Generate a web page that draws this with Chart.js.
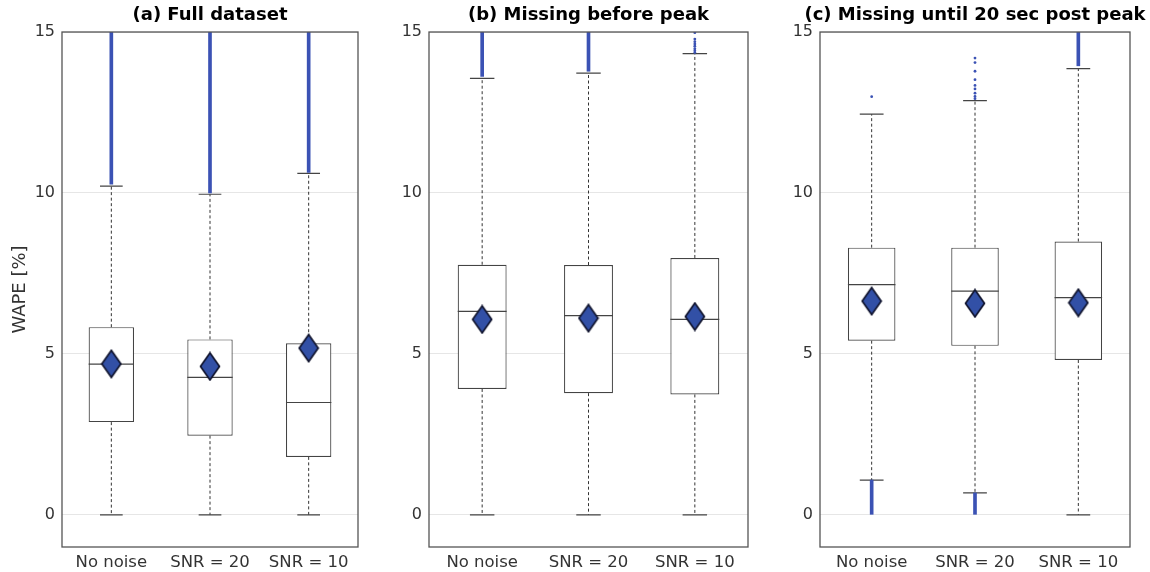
<!DOCTYPE html>
<html>
<head>
<meta charset="utf-8">
<script src="https://cdn.jsdelivr.net/npm/chart.js@4/dist/chart.umd.min.js"></script>
<style>
  html, body { margin: 0; padding: 0; background: #fff; overflow: hidden; }
  #wrap { position: relative; width: 1150px; height: 572px; overflow: hidden; }
  .panel { position: absolute; top: 0; height: 572px; }
</style>
</head>
<body>
<div id="wrap">
  <div class="panel" style="left:0; width:365px;"><canvas id="chartA"></canvas></div>
  <div class="panel" style="left:380px; width:375px;"><canvas id="chartB"></canvas></div>
  <div class="panel" style="left:765px; width:420px;"><canvas id="chartC"></canvas></div>
</div>
<script>
const categories = ["No noise", "SNR = 20", "SNR = 10"];
const yTicks = [0, 5, 10, 15];

// (a) Full dataset
const fullQ1 = [2.88, 2.46, 1.80];
const fullMedian = [4.68, 4.27, 3.49];
const fullQ3 = [5.83, 5.45, 5.33];
const fullLow = [0, 0, 0];
const fullHigh = [10.21, 9.96, 10.61];
const fullMean = [4.69, 4.61, 5.18];
const fullBandTop = [[10.27, 15], [10.0, 15], [10.64, 15]];
const fullBandBottom = [null, null, null];
const fullFliers = [[], [], []];

// (b) Missing before peak
const beforeQ1 = [3.91, 3.78, 3.74];
const beforeMedian = [6.32, 6.19, 6.07];
const beforeQ3 = [7.77, 7.76, 7.98];
const beforeLow = [0, 0, 0];
const beforeHigh = [13.56, 13.72, 14.33];
const beforeMean = [6.07, 6.11, 6.16];
const beforeBandTop = [[13.62, 15], [13.78, 15], null];
const beforeBandBottom = [null, null, null];
const beforeFliers = [[], [], [14.36, 14.42, 14.48, 14.56, 14.63, 14.7, 14.78, 14.98]];

// (c) Missing until 20 sec post peak
const postQ1 = [5.41, 5.25, 4.81];
const postMedian = [7.15, 6.95, 6.75];
const postQ3 = [8.30, 8.30, 8.49];
const postLow = [1.08, 0.68, 0];
const postHigh = [12.45, 12.87, 13.86];
const postMean = [6.64, 6.57, 6.59];
const postBandTop = [null, null, [13.95, 15]];
const postBandBottom = [[0, 1.08], [0, 0.68], null];
const postFliers = [[12.99], [12.93, 13.0, 13.1, 13.23, 13.34, 13.52, 13.78, 14.05, 14.19], []];

const BLUE = "#3b52b4";
const FONT = "'DejaVu Sans', 'Liberation Sans', sans-serif";

const stats = {};

function makeDiamond() {
    const c = document.createElement("canvas");
    c.width = 22;
    c.height = 30;
    const ctx = c.getContext("2d");
    ctx.beginPath();
    ctx.moveTo(11, 1.5);
    ctx.lineTo(20.5, 15);
    ctx.lineTo(11, 28.5);
    ctx.lineTo(1.5, 15);
    ctx.closePath();
    ctx.fillStyle = "#3250a6";
    ctx.fill();
    ctx.lineWidth = 1.7;
    ctx.strokeStyle = "#10142e";
    ctx.stroke();
    return c;
}
const diamond = makeDiamond();

// whiskers, caps, medians and the frame drawn from the chart's own scales
const boxParts = {
    id: "boxParts",
    beforeDatasetsDraw(chart) {
        const s = stats[chart.canvas.id];
        const y = chart.scales.y;
        const bars = chart.getDatasetMeta(s.boxIndex).data;
        const ctx = chart.ctx;
        ctx.save();
        bars.forEach((bar, i) => {
            const half = bar.width / 4;
            ctx.strokeStyle = "#333";
            ctx.lineWidth = 1;
            ctx.setLineDash([3, 2.5]);
            ctx.beginPath();
            ctx.moveTo(bar.x, y.getPixelForValue(s.q3[i]));
            ctx.lineTo(bar.x, y.getPixelForValue(s.high[i]));
            ctx.moveTo(bar.x, y.getPixelForValue(s.q1[i]));
            ctx.lineTo(bar.x, y.getPixelForValue(s.low[i]));
            ctx.stroke();
            ctx.setLineDash([]);
            ctx.lineWidth = 1.2;
            ctx.strokeStyle = "#444";
            ctx.beginPath();
            [s.high[i], s.low[i]].forEach(v => {
                const py = y.getPixelForValue(v);
                ctx.moveTo(bar.x - half, py);
                ctx.lineTo(bar.x + half, py);
            });
            ctx.stroke();
        });
        ctx.restore();
    },
    afterDatasetDraw(chart, args) {
        const s = stats[chart.canvas.id];
        if (args.index !== s.boxIndex) return;
        const y = chart.scales.y;
        const ctx = chart.ctx;
        ctx.save();
        ctx.strokeStyle = "#444";
        ctx.lineWidth = 1.2;
        args.meta.data.forEach((bar, i) => {
            const py = y.getPixelForValue(s.median[i]);
            ctx.beginPath();
            ctx.moveTo(bar.x - bar.width / 2, py);
            ctx.lineTo(bar.x + bar.width / 2, py);
            ctx.stroke();
        });
        ctx.restore();
    },
    afterDraw(chart) {
        const a = chart.chartArea;
        const ctx = chart.ctx;
        ctx.save();
        ctx.strokeStyle = "#555";
        ctx.lineWidth = 1.3;
        ctx.strokeRect(a.left, a.top, a.right - a.left, a.bottom - a.top);
        ctx.restore();
    }
};

// rightGap: empty space right of the plot; wideTitle lets the title run past the plot edges
function makePanel(id, title, d, axisWidth, rightGap, showYTitle, wideTitle) {
    const flierPoints = [];
    d.fliers.forEach((list, i) => list.forEach(v => flierPoints.push({ x: categories[i], y: v })));

    stats[id] = { q1: d.q1, median: d.median, q3: d.q3, low: d.low, high: d.high, boxIndex: 2 };

    new Chart(document.getElementById(id), {
        type: "bar",
        data: {
            labels: categories,
            datasets: [
                {
                    type: "line",
                    data: d.mean,
                    showLine: false,
                    pointStyle: diamond,
                    pointRadius: 10,
                    order: 0
                },
                {
                    type: "line",
                    data: flierPoints,
                    showLine: false,
                    pointStyle: "circle",
                    pointRadius: 1.4,
                    pointBorderWidth: 0,
                    pointBackgroundColor: BLUE,
                    order: 1
                },
                {
                    data: categories.map((c, i) => [d.q1[i], d.q3[i]]),
                    backgroundColor: "#fff",
                    borderColor: "#444",
                    borderWidth: 1.2,
                    borderSkipped: false,
                    barPercentage: 0.46,
                    categoryPercentage: 1,
                    grouped: false,
                    order: 2
                },
                {
                    data: d.bandTop,
                    backgroundColor: BLUE,
                    barThickness: 3,
                    grouped: false,
                    order: 3
                },
                {
                    data: d.bandBottom,
                    backgroundColor: BLUE,
                    barThickness: 3,
                    grouped: false,
                    order: 3
                }
            ]
        },
        options: {
            responsive: true,
            maintainAspectRatio: false,
            animation: false,
            events: [],
            layout: { autoPadding: false, padding: 0 },
            plugins: {
                legend: { display: false },
                tooltip: { enabled: false },
                title: {
                    display: true,
                    text: title,
                    fullSize: wideTitle,
                    color: "#000",
                    font: { family: FONT, size: 18, weight: "bold" },
                    padding: { top: 5, bottom: 5.4 }
                }
            },
            scales: {
                x: {
                    grid: { display: false, drawTicks: false },
                    border: { display: false },
                    ticks: { color: "#333", font: { family: FONT, size: 16.5 }, padding: 6, maxRotation: 0 },
                    afterFit: s => { s.height = 25; }
                },
                y: {
                    min: -1,
                    max: 15,
                    afterBuildTicks: s => { s.ticks = yTicks.map(v => ({ value: v })); },
                    grid: { color: "#e6e6e6", lineWidth: 1, drawTicks: false },
                    border: { display: false },
                    ticks: { color: "#333", font: { family: FONT, size: 16 }, padding: 7 },
                    title: {
                        display: showYTitle,
                        text: "WAPE [%]",
                        color: "#333",
                        font: { family: FONT, size: 18 },
                        padding: { top: 10, bottom: 0 }
                    },
                    afterFit: s => { s.width = axisWidth; }
                },
                // empty right-hand spacer so the plot keeps its width
                gap: {
                    type: "linear",
                    position: "right",
                    grid: { display: false, drawTicks: false },
                    border: { display: false },
                    ticks: { display: false },
                    afterFit: s => { s.width = rightGap; }
                }
            }
        },
        plugins: [boxParts]
    });
}

makePanel("chartA", "(a) Full dataset", {
    q1: fullQ1, median: fullMedian, q3: fullQ3, low: fullLow, high: fullHigh,
    mean: fullMean, bandTop: fullBandTop, bandBottom: fullBandBottom, fliers: fullFliers
}, 62, 7, true, false);

makePanel("chartB", "(b) Missing before peak", {
    q1: beforeQ1, median: beforeMedian, q3: beforeQ3, low: beforeLow, high: beforeHigh,
    mean: beforeMean, bandTop: beforeBandTop, bandBottom: beforeBandBottom, fliers: beforeFliers
}, 49, 7, false, false);

makePanel("chartC", "(c) Missing until 20 sec post peak", {
    q1: postQ1, median: postMedian, q3: postQ3, low: postLow, high: postHigh,
    mean: postMean, bandTop: postBandTop, bandBottom: postBandBottom, fliers: postFliers
}, 55, 55, false, true);
</script>
</body>
</html>
